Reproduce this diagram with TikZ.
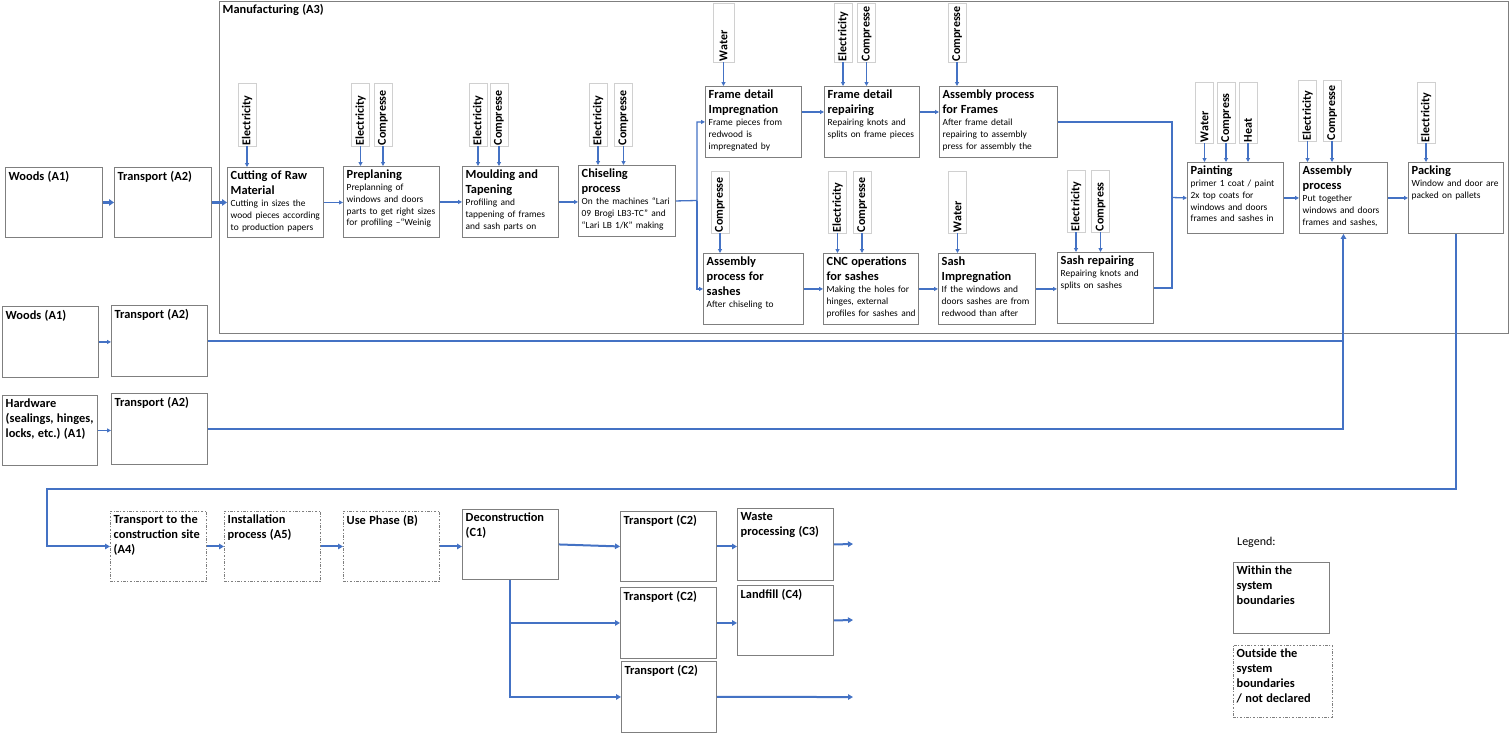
\documentclass[tikz,border=0pt]{standalone}
\usepackage{fontspec}
\setmainfont{Carlito}
\usetikzlibrary{arrows.meta}
\frenchspacing

\definecolor{flowblue}{HTML}{4472C4}
\definecolor{boxgray}{HTML}{7F7F7F}
\definecolor{inpgray}{HTML}{D0D0D0}

\newcommand{\hd}[1]{{\fontsize{12.4}{15}\selectfont\bfseries #1\par}}
\newcommand{\ds}[1]{{\fontsize{9.4}{11.7}\selectfont #1\par}}

\begin{document}
\begin{tikzpicture}[x=1pt, y=-1pt,
  box/.style={draw=boxgray, line width=0.9pt, anchor=north west, minimum width=96pt, minimum height=71pt, inner sep=0pt},
  outbox/.style={box, dash pattern=on 2.5pt off 1.5pt on 1pt off 1.5pt},
  txt/.style={anchor=north west, inner xsep=3.5pt, inner ysep=4pt, text width=104pt, align=left},
  proc/.style={box, label={[txt]north west:{#1}}},
  outproc/.style={outbox, label={[txt]north west:{#1}}},
  inp/.style={draw=inpgray, line width=0.8pt, rotate=90, minimum height=18pt, inner xsep=1pt, inner ysep=0pt, align=left,
    font=\fontsize{12}{14}\selectfont\bfseries, execute at begin node={\hyphenpenalty=10000\relax}},
  flow/.style={draw=flowblue, line width=1.3pt, -{Triangle[length=4pt, width=4pt]}},
  bigflow/.style={draw=flowblue, line width=2.6pt, -{Triangle[length=5pt, width=6.5pt]}},
  route/.style={draw=flowblue, line width=2pt},
  routeflow/.style={route, -{Triangle[length=5pt, width=5.5pt]}},
  flows/.style={every edge/.style={#1}}]

    \useasboundingbox (0,0) rectangle (1510,732);

    % manufacturing frame (A3)
    \node[proc={\hd{Manufacturing (A3)}}, minimum width=1289pt, minimum height=332pt] (mfg) at (219,0.5) {};

    % raw material and transport
    \node[proc={\hd{Woods (A1)}}, minimum width=97pt, minimum height=70pt] (wood1) at (5,167) {};
    \node[proc={\hd{Transport (A2)}}, minimum width=97pt, minimum height=70pt] (tra1) at (114,167) {};
    \node[proc={\hd{Woods (A1)}}] (wood2) at (2,306) {};
    \node[proc={\hd{Transport (A2)}}] (tra2) at (111,305) {};
    \node[proc={\hd{Hardware\\(sealings, hinges,\\locks, etc.) (A1)}}, minimum width=95pt, minimum height=70pt] (hw) at (2,395) {};
    \node[proc={\hd{Transport (A2)}}] (tra3) at (111,393) {};

    % manufacturing steps
    \node[proc={\hd{Cutting of Raw\\Material}\ds{Cutting in sizes the\\wood pieces according\\to production papers}}, minimum height=70pt] (cut) at (227,167) {};
    \node[proc={\hd{Preplaning}\ds{Preplanning of\\windows and doors\\parts to get right sizes\\for profiling –“Weinig}}] (pre) at (343,166) {};
    \node[proc={\hd{Moulding and\\Tapening}\ds{Profiling and\\tappening of frames\\and sash parts on}}] (mou) at (462,166) {};
    \node[proc={\hd{Chiseling\\process}\ds{On the machines “Lari\\09 Brogi LB3-TC” and\\“Lari LB 1/K” making}}, minimum width=97pt] (chi) at (578,165) {};
    \node[proc={\hd{Frame detail\\Impregnation}\ds{Frame pieces from\\redwood is\\impregnated by}}] (fdi) at (705,86) {};
    \node[proc={\hd{Frame detail\\repairing}\ds{Repairing knots and\\splits on frame pieces}}, minimum width=95pt] (fdr) at (824,86) {};
    \node[proc={\hd{Assembly process\\for Frames}\ds{After frame detail\\repairing to assembly\\press for assembly the}}, minimum width=118pt] (apf) at (939,86) {};
    \node[proc={\hd{Assembly\\process for\\sashes}\ds{After chiseling to}}, minimum width=100pt] (aps) at (703,253) {};
    \node[proc={\hd{CNC operations\\for sashes}\ds{Making the holes for\\hinges, external\\profiles for sashes and}}, minimum width=95pt] (cnc) at (823,253) {};
    \node[proc={\hd{Sash\\Impregnation}\ds{If the windows and\\doors sashes are from\\redwood than after}}, minimum width=97pt] (sim) at (938,253) {};
    \node[proc={\hd{Sash repairing}\ds{Repairing knots and\\splits on sashes}}] (srp) at (1057,252) {};
    \node[proc={\hd{Painting}\ds{primer 1 coat / paint\\2x top coats for\\windows and doors\\frames and sashes in}}] (pai) at (1187,162) {};
    \node[proc={\hd{Assembly\\process}\ds{Put together\\windows and doors\\frames and sashes,}}, minimum width=88pt] (asm) at (1299,162) {};
    \node[proc={\hd{Packing}\ds{Window and door are\\packed on pallets}}, minimum width=95pt] (pac) at (1408,162) {};

    % inputs
    \node[inp, text width=61pt] (cut-e) at (247,114.5) {Electricity};
    \node[inp, text width=61pt] (pre-e) at (360.5,114.5) {Electricity};
    \node[inp, text width=61pt] (pre-c) at (383,114.5) {Compresse};
    \node[inp, text width=61pt] (mou-e) at (478,114.5) {Electricity};
    \node[inp, text width=61pt] (mou-c) at (499,114.5) {Compresse};
    \node[inp, text width=61pt] (chi-e) at (598,114.5) {Electricity};
    \node[inp, text width=61pt] (chi-c) at (623.5,114.5) {Compresse};
    \node[inp, text width=57pt, minimum height=21pt] (fdi-w) at (723.5,32.5) {Water};
    \node[inp, text width=57pt] (fdr-e) at (843,32.5) {Electricity};
    \node[inp, text width=57pt] (fdr-c) at (866.5,32.5) {Compresse};
    \node[inp, text width=57pt] (apf-c) at (957,32.5) {Compresse};
    \node[inp, text width=60pt] (aps-c) at (720,202) {Compresse};
    \node[inp, text width=60pt] (cnc-e) at (837.5,202) {Electricity};
    \node[inp, text width=60pt] (cnc-c) at (862,202) {Compresse};
    \node[inp, text width=60pt] (sim-w) at (957.5,202) {Water};
    \node[inp, text width=60pt] (srp-e) at (1076,201) {Electricity};
    \node[inp, text width=60pt] (srp-c) at (1100.5,201) {Compress};
    \node[inp, text width=59pt] (pai-w) at (1204.5,112.5) {Water};
    \node[inp, text width=59pt] (pai-c) at (1226,112.5) {Compress};
    \node[inp, text width=59pt] (pai-h) at (1248,112.5) {Heat};
    \node[inp, text width=59pt] (asm-e) at (1307.5,110.5) {Electricity};
    \node[inp, text width=59pt] (asm-c) at (1332,110.5) {Compresse};
    \node[inp, text width=59pt] (pac-e) at (1426,112.5) {Electricity};

    % use stage and end of life
    \node[outproc={\hd{Transport to the\\construction site\\(A4)}}, minimum height=70pt] (a4) at (110,511) {};
    \node[outproc={\hd{Installation\\process (A5)}}, minimum height=70pt] (a5) at (224,511) {};
    \node[outproc={\hd{Use Phase (B)}}, minimum height=70pt] (b) at (343,511) {};
    \node[proc={\hd{Deconstruction\\(C1)}}, minimum height=70pt] (c1) at (462,509) {};
    \node[proc={\hd{Transport (C2)}}, minimum height=70pt] (c2a) at (620,511) {};
    \node[proc={\hd{Waste\\processing (C3)}}, minimum height=72pt] (c3) at (737,508) {};
    \node[proc={\hd{Transport (C2)}}] (c2b) at (620,587) {};
    \node[proc={\hd{Landfill (C4)}}, minimum height=70pt] (c4) at (737,585) {};
    \node[proc={\hd{Transport (C2)}}, minimum width=95pt] (c2c) at (621,661) {};

    % legend
    \node[anchor=west, inner sep=0pt, font=\fontsize{12}{14}\selectfont] (leg) at (1237,542) {Legend:};
    \node[proc={\hd{Within the\\system\\boundaries}}] (within) at (1233,562) {};
    \node[outproc={\hd{Outside the\\system\\boundaries\\/ not declared}}, minimum width=99pt, minimum height=72pt] (outside) at (1233,645) {};

    \coordinate (split) at (697,200.5);
    \coordinate (merge) at (1172,197.5);
    \coordinate (turn) at (47,489);
    \coordinate (o3) at (853,544);
    \coordinate (o4) at (853,620);
    \coordinate (o5) at (853,697);

    % input arrows
    \path[flows=flow]
    (cut-e.west) edge (cut-e.west |- cut.north)
    (pre-e.west) edge (pre-e.west |- pre.north)
    (pre-c.west) edge (pre-c.west |- pre.north)
    (mou-e.west) edge (mou-e.west |- mou.north)
    (mou-c.west) edge (mou-c.west |- mou.north)
    (chi-e.west) edge (chi-e.west |- chi.north)
    (chi-c.west) edge (chi-c.west |- chi.north)
    (fdi-w.west) edge (fdi-w.west |- fdi.north)
    (fdr-e.west) edge (fdr-e.west |- fdr.north)
    (fdr-c.west) edge (fdr-c.west |- fdr.north)
    (apf-c.west) edge (apf-c.west |- apf.north)
    (aps-c.west) edge (aps-c.west |- aps.north)
    (cnc-e.west) edge (cnc-e.west |- cnc.north)
    (cnc-c.west) edge (cnc-c.west |- cnc.north)
    (sim-w.west) edge (sim-w.west |- sim.north)
    (srp-e.west) edge (srp-e.west |- srp.north)
    (srp-c.west) edge (srp-c.west |- srp.north)
    (pai-w.west) edge (pai-w.west |- pai.north)
    (pai-c.west) edge (pai-c.west |- pai.north)
    (pai-h.west) edge (pai-h.west |- pai.north)
    (asm-e.west) edge (asm-e.west |- asm.north)
    (asm-c.west) edge (asm-c.west |- asm.north)
    (pac-e.west) edge (pac-e.west |- pac.north);

    % process flow
    \path[flows=bigflow] (wood1.east) edge (tra1.west) (tra1.east) edge (cut.west);
    \path[flows=flow]
    (cut.east) edge (cut.east -| pre.west)
    (pre.east) edge (pre.east -| mou.west)
    (mou.east) edge (mou.east -| chi.west)
    (fdi.east |- 0,112) edge (fdr.west |- 0,112)
    (fdr.east |- 0,112) edge (apf.west |- 0,112)
    (aps.east) edge (aps.east -| cnc.west)
    (cnc.east) edge (cnc.east -| sim.west)
    (sim.east) edge (sim.east -| srp.west)
    (merge) edge (pai.west)
    (pai.east) edge (pai.east -| asm.west)
    (asm.east) edge (asm.east -| pac.west)
    (wood2.east) edge (wood2.east -| tra2.west)
    (hw.east) edge (hw.east -| tra3.west);
    \draw[flow] (chi.east) -- (split) |- (fdi.west);
    \draw[flow] (split) |- (aps.west);
    \draw[flow, -] (apf.east) -| (merge);
    \draw[flow, -] (srp.east) -| (merge);

    % supply lines and distribution
    \draw[route] (tra2.east) -- (tra2.east -| asm.south);
    \draw[routeflow] (tra3.east) -| (asm.south);
    \draw[routeflow] (pac.south) |- (turn) |- (a4.west);
    \path[flows=routeflow]
    (a4.east) edge (a4.east -| a5.west)
    (a5.east) edge (a5.east -| b.west)
    (b.east) edge (b.east -| c1.west)
    (c1.east) edge (c2a.west)
    (c2a.east) edge (c2a.east -| c3.west)
    (c2b.east) edge (c2b.east -| c4.west)
    (c3.east) edge (o3)
    (c4.east) edge (o4)
    (c2c.east) edge (o5);
    \draw[routeflow] (c1.south) |- (c2b.west);
    \draw[routeflow] (c1.south) |- (c2c.west);
\end{tikzpicture}
\end{document}
